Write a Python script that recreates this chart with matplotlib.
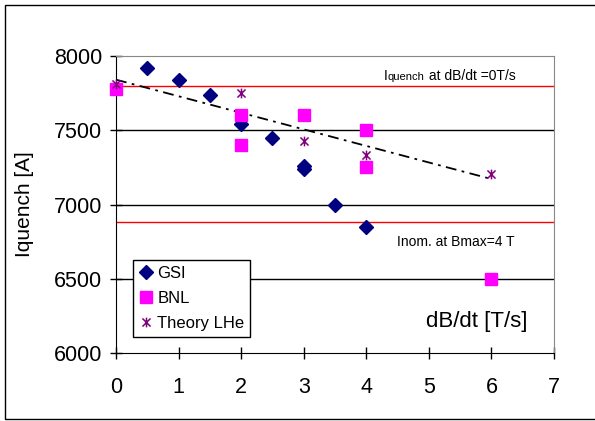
import numpy as np
import matplotlib
matplotlib.use("Agg")
from matplotlib import pyplot as plt
from matplotlib.patches import Rectangle
from matplotlib.path import Path

plt.rcParams['font.family'] = ['Liberation Sans', 'DejaVu Sans']

# ramp rate dB/dt [T/s] and quench current [A]
gsi_x = [0.5, 1, 1.5, 2, 2.5, 3, 3, 3.5, 4]
gsi_y = [7920, 7835, 7740, 7540, 7450, 7260, 7240, 7000, 6850]

bnl_x = [0, 2, 2, 3, 4, 4, 6]
bnl_y = [7780, 7605, 7400, 7605, 7500, 7250, 6500]

theory_x = [0, 2, 3, 4, 6]
theory_y = [7810, 7750, 7430, 7335, 7205]

i_quench_0 = 7800   # Iquench at dB/dt = 0 T/s
i_nom = 6880        # Inom at Bmax = 4 T

fig = plt.figure(figsize=(5.95, 4.21), dpi=100)
ax = fig.add_axes([0.195, 0.1615, 0.736, 0.7055])

# outer chart frame (right edge runs off the canvas)
fig.patches.append(Rectangle((5 / 595, 2 / 421), 1.2, 414 / 421, transform=fig.transFigure,
                             fill=False, edgecolor='black', linewidth=1.0, zorder=0))

ax.set_xlim(0, 7)
ax.set_ylim(6000, 8000)
ax.set_xticks(range(0, 8))
ax.set_yticks([6000, 6500, 7000, 7500, 8000])
for v in [6500, 7000, 7500]:
    ax.axhline(v, color='black', linewidth=1.0, zorder=1)
ax.axhline(i_quench_0, color='red', linewidth=1.0, zorder=1)
ax.axhline(i_nom, color='red', linewidth=1.0, zorder=1)

ax.spines['top'].set_color('#888888')
ax.spines['right'].set_color('#888888')
ax.tick_params(axis='both', direction='inout', length=8, width=1, labelsize=15.5)
ax.tick_params(axis='x', pad=13)
ax.tick_params(axis='y', pad=6)

# linear trend of the theory values
coef = np.polyfit(theory_x, theory_y, 1)
tx = np.array([min(theory_x), max(theory_x)])
ax.plot(tx, np.polyval(coef, tx), color='black', linewidth=1.3,
        linestyle=(0, (6, 3, 1.5, 3)), zorder=2)

# Excel-style star: an X with a vertical bar
star = Path([(-1, -1), (1, 1), (-1, 1), (1, -1), (0, -1.2), (0, 1.2)],
            [Path.MOVETO, Path.LINETO, Path.MOVETO, Path.LINETO, Path.MOVETO, Path.LINETO])

ax.plot(gsi_x, gsi_y, linestyle='none', marker='D', markersize=7.5,
        color='#000080', label='GSI', zorder=3, clip_on=False)
ax.plot(bnl_x, bnl_y, linestyle='none', marker='s', markersize=8.5,
        color='#FF00FF', label='BNL', zorder=3, clip_on=False)
ax.plot(theory_x, theory_y, linestyle='none', marker=star, markersize=7,
        markeredgewidth=1.1, color='#800080', label='Theory LHe', zorder=4, clip_on=False)

ax.set_ylabel('Iquench [A]', fontsize=15, labelpad=14)
ax.text(5.77, 6215, 'dB/dt [T/s]', fontsize=16, ha='center', va='center')

# "Iquench" with a smaller "quench", all on one baseline
fig.canvas.draw()
x0 = ax.transData.transform((4.28, 7840))
pieces = [('I', 10), ('quench', 8), (' at dB/dt =0T/s', 10)]
xpix = x0[0]
inv = ax.transData.inverted()
for s, fs in pieces:
    t = ax.text(*inv.transform((xpix, x0[1])), s, fontsize=fs, va='baseline', ha='left')
    xpix = t.get_window_extent(fig.canvas.get_renderer()).x1

ax.text(4.49, 6720, 'Inom. at Bmax=4 T', fontsize=10, va='baseline')

leg = ax.legend(loc='lower left', bbox_to_anchor=(0.039, 0.054), borderaxespad=0,
                fancybox=False, edgecolor='black', framealpha=1, fontsize=12,
                handlelength=0.8, handletextpad=0.3, borderpad=0.35, labelspacing=0.6)
leg.get_frame().set_linewidth(1.0)

fig.savefig('out.png', dpi=100)
